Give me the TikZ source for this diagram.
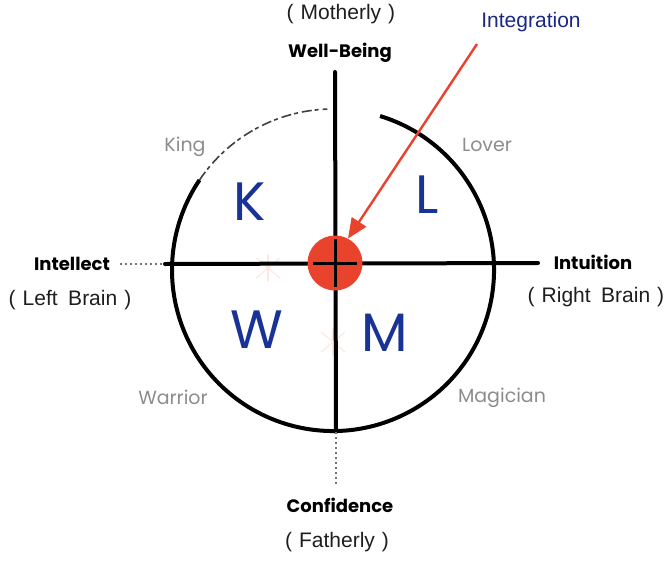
\documentclass[tikz,border=0pt]{standalone}
\usepackage{fontspec}
\setmainfont{Liberation Sans}
\newfontfamily\hand{Poppins}
\usetikzlibrary{arrows.meta,calc}
\definecolor{inknavy}{RGB}{28,40,130}
\definecolor{letterblue}{RGB}{24,50,150}
\definecolor{redfill}{RGB}{233,66,45}
\definecolor{labelgray}{RGB}{140,140,140}
\definecolor{textdark}{RGB}{30,30,30}
\definecolor{faintpink}{RGB}{252,232,224}
\tikzset{
  axisline/.style={line width=4pt,black,line cap=round},
  dotline/.style={line width=1.2pt,black!55,dash pattern=on 2pt off 3pt},
  sketch/.style={line width=1.6pt,black!75,dash pattern=on 10pt off 3pt on 4pt off 4pt},
  ring/.style={line width=4pt,black},
  paren/.style={font=\fontsize{21}{24}\selectfont,text=textdark,inner sep=0pt},
  handlabel/.style={font=\hand\bfseries\fontsize{18}{22}\selectfont,text=black,inner sep=0pt},
  archetype/.style={font=\hand\fontsize{19}{22}\selectfont,text=labelgray,inner sep=0pt},
  bigletter/.style={font=\hand\fontsize{54}{60}\selectfont,text=letterblue,inner sep=0pt},
  spark/.style={line width=1.2pt,faintpink,line cap=round},
}
\begin{document}
\begin{tikzpicture}[x=1pt,y=-1pt]
\useasboundingbox (0,0) rectangle (672,560);
% geometry
\coordinate (c) at (333,270);
\coordinate (top) at (335,72);
\coordinate (bot) at (336,432);
\coordinate (botend) at (336,484);
\coordinate (left) at (120,264);
\coordinate (leftsolid) at (165,264);
\coordinate (right) at (538,263);
% faint sparkles
\foreach \p in {(268,268),(333,342)}{
  \draw[spark] \p ++(-12,-10) -- ++(24,20);
  \draw[spark] \p ++(-12,10) -- ++(24,-20);
  \draw[spark] \p ++(0,-13) -- ++(0,26);
}
% circle
\draw[ring] ([shift={(-73:161)}]c) arc[start angle=-73,end angle=214,radius=161];
\draw[sketch] ([shift={(214:161)}]c) arc[start angle=214,end angle=268,radius=161];
% axes
\draw[axisline] (top) -- (bot);
\draw[dotline] (bot) -- (botend);
\draw[dotline] (left) -- (leftsolid);
\draw[axisline] (leftsolid) -- (right);
% centre
\node[circle,fill=redfill,minimum size=55pt,inner sep=0pt] (integ) at (335,263) {};
\draw[line width=3pt,black] (integ.center) ++(-22,0) -- ++(44,0);
\draw[line width=3pt,black] (integ.center) ++(0,-24) -- ++(0,48);
% labels
\node[font=\fontsize{21}{24}\selectfont,text=inknavy,inner sep=0pt] (integlabel) at (531,22) {Integration};
\coordinate (arrowstart) at (477,44);
\draw[line width=2.4pt,redfill,-{Triangle[length=20pt,width=17pt]}] (arrowstart) -- (integ.62);
\node[paren] (mother) at (341,14) {(\,\,Motherly\,\,)};
\node[handlabel] (well) at (340,53) {Well-Being};
\node[handlabel] (intellect) at (72,264) {Intellect};
\node[paren] (leftbrain) at (70,300) {(\,\,Left\,\,\,Brain\,\,)};
\node[handlabel] (intuition) at (593,262) {Intuition};
\node[paren] (rightbrain) at (596,297) {(\,\,Right\,\,\,Brain\,\,)};
\node[handlabel] (conf) at (340,505) {Confidence};
\node[paren] (father) at (337,542) {(\,\,Fatherly\,\,)};
\node[archetype] (king) at (185,147) {King};
\node[archetype] (lover) at (487,145) {Lover};
\node[archetype] (warrior) at (173,397) {Warrior};
\node[archetype] (magician) at (502,398) {Magician};
\node[bigletter] (K) at (250,202) {K};
\node[bigletter] (L) at (427,195) {L};
\node[bigletter] (W) at (257,330) {W};
\node[bigletter] (M) at (385,333) {M};
\end{tikzpicture}
\end{document}
